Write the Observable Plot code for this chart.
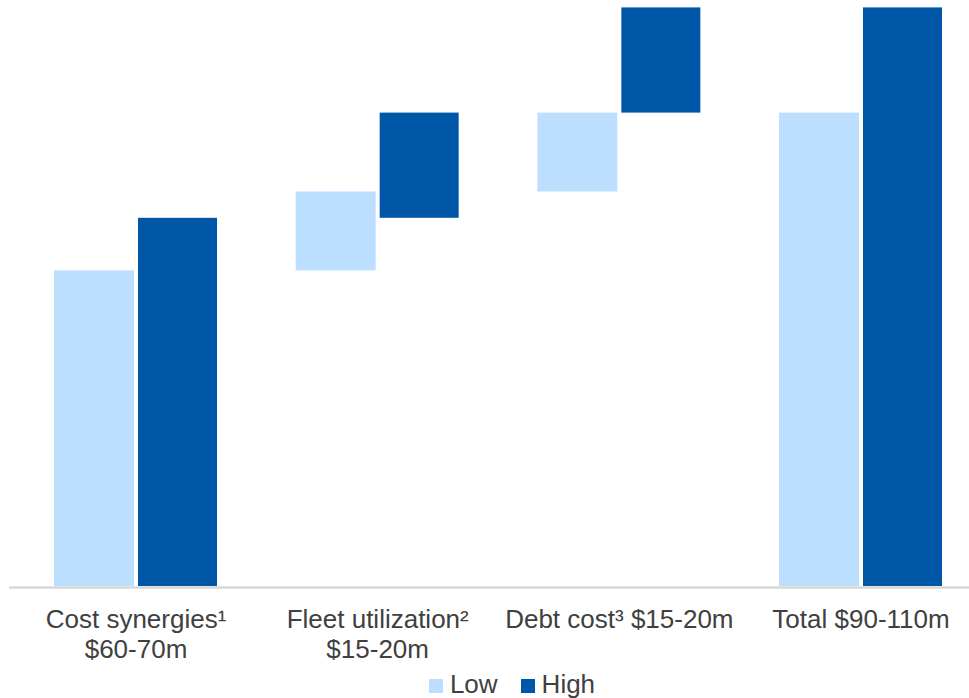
<!DOCTYPE html>
<html>
<head>
<meta charset="utf-8">
<script src="https://cdn.jsdelivr.net/npm/d3@7"></script>
<script src="https://cdn.jsdelivr.net/npm/@observablehq/plot@0.6"></script>
<style>
  html, body { margin: 0; padding: 0; background: #fff; }
  body { width: 969px; font-family: "Liberation Sans", Arial, sans-serif; }
  #legend { display: flex; justify-content: center; align-items: center; padding-left: 55px; height: 30px; line-height: 30px; font-size: 26px; color: #404040; }
  .item { display: flex; align-items: center; }
  .sw { width: 14px; height: 14px; margin-right: 7px; margin-top: 3px; }
</style>
</head>
<body>
<div id="chart"></div>
<div id="legend"></div>
<script>
const categories = ["Cost synergies", "Fleet utilization", "Debt cost", "Total"];
const labels = ["Cost synergies¹\n$60-70m", "Fleet utilization²\n$15-20m", "Debt cost³ $15-20m", "Total $90-110m"];
const isTotal = [false, false, false, true];
const lowValues = [60, 15, 15, 90];
const highValues = [70, 20, 20, 110];
const seriesNames = ["Low", "High"];
const seriesColors = ["#BDDFFF", "#0057A8"];

// waterfall bases
const rows = [];
let lowCum = 0, highCum = 0;
categories.forEach((c, i) => {
  const lowStart = isTotal[i] ? 0 : lowCum;
  const highStart = isTotal[i] ? 0 : highCum;
  const lowEnd = lowStart + lowValues[i];
  const highEnd = highStart + highValues[i];
  if (!isTotal[i]) { lowCum = lowEnd; highCum = highEnd; }
  rows.push({cat: c, label: labels[i], lowStart, lowEnd, highStart, highEnd});
});
const labelOf = new Map(rows.map(d => [d.cat, d.label]));

const plot = Plot.plot({
  width: 969,
  height: 669,
  marginLeft: 9,
  marginRight: 0,
  marginTop: 7.4,
  marginBottom: 83,
  style: {fontFamily: "Liberation Sans, Arial, sans-serif", fontSize: "26px", color: "#404040", background: "#fff"},
  x: {domain: categories, paddingInner: 0.3255, paddingOuter: 0.149, align: 0.625, round: false, label: null},
  y: {domain: [0, 110], axis: null},
  marks: [
    Plot.barY(rows, {x: "cat", y1: "lowStart", y2: "lowEnd", fill: seriesColors[0], insetRight: 83}),
    Plot.barY(rows, {x: "cat", y1: "highStart", y2: "highEnd", fill: seriesColors[1], insetLeft: 84}),
    Plot.ruleY([0], {stroke: "#D9D9D9", strokeWidth: 2.5, dy: 1}),
    Plot.axisX({tickSize: 0, tickPadding: 20, tickFormat: d => labelOf.get(d), fontSize: 26, lineHeight: 30/26, fill: "#404040", label: null})
  ]
});
document.getElementById("chart").appendChild(plot);

const legend = d3.select("#legend");
seriesNames.forEach((s, i) => {
  const it = legend.append("div").attr("class", "item").style("margin-right", i === 0 ? "23px" : "0px");
  it.append("div").attr("class", "sw").style("background", seriesColors[i]);
  it.append("span").text(s);
});
</script>
</body>
</html>
